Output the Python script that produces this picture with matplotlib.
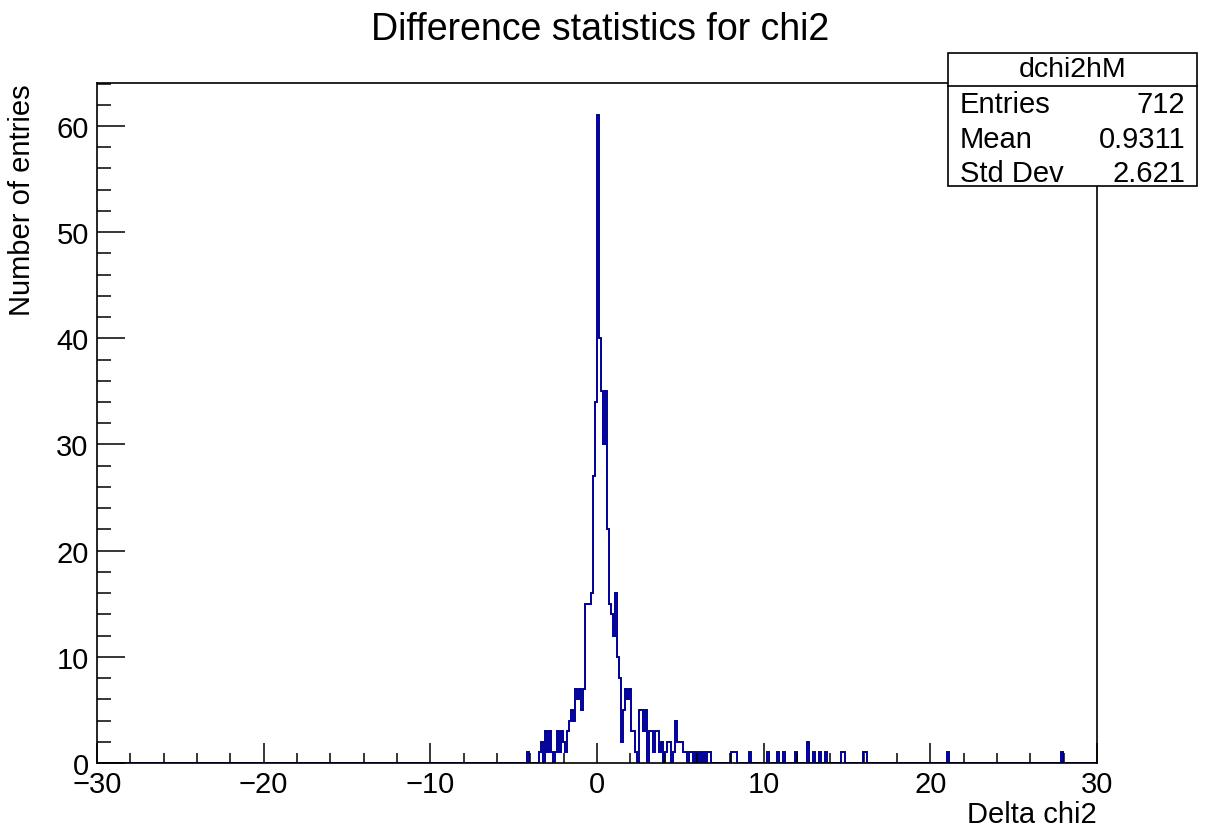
import numpy as np
import matplotlib
matplotlib.use("Agg")
import matplotlib.pyplot as plt
from matplotlib.ticker import MultipleLocator, FuncFormatter
from matplotlib.patches import Rectangle

plt.rcParams['font.family'] = ['Liberation Sans', 'DejaVu Sans']

# ---- data ----
nbins = 500
xmin, xmax = -30.0, 30.0
# central contiguous region: bins starting at x = -4.20 (bin width 0.12)
core_start = -4.20
core_counts = [1, 0, 0, 0, 0, 0, 1, 2, 0, 3, 1, 3, 1, 0, 1, 3, 1, 3, 2, 1,
               3, 4, 5, 4, 7, 6, 7, 5, 7, 15, 15, 15, 16, 27, 34,
               61, 40, 35, 30, 35, 22, 15, 14, 12, 16, 10, 8, 2, 5, 7, 6, 7,
               3, 3, 1, 0, 5, 5, 3, 5, 0, 3, 3, 1, 3, 3, 1, 2, 0, 1, 2, 2, 0,
               1, 4, 2, 2, 2, 1, 1, 0, 1, 1, 0, 1, 0, 1, 0, 1, 0, 1, 1]
# sparse tail entries (bin low edge x, count)
tail_x = [8.04, 8.16, 8.28, 9.12, 10.20, 10.80, 11.16, 11.88, 12.60, 12.96,
          13.32, 13.68, 14.64, 14.76, 15.96, 16.08, 21.00, 27.84]
tail_counts = [1, 1, 1, 1, 1, 1, 1, 1, 2, 1, 1, 1, 1, 1, 1, 1, 1, 1]

title = "Difference statistics for chi2"
xlabel = "Delta chi2"
ylabel = "Number of entries"
stats_name = "dchi2hM"
stats_labels = ["Entries", "Mean", "Std Dev"]
stats_values = ["712", "0.9311", "2.621"]

# ---- build histogram ----
edges = np.linspace(xmin, xmax, nbins + 1)
bw = (xmax - xmin) / nbins
counts = np.zeros(nbins)
i0 = int(round((core_start - xmin) / bw))
counts[i0:i0 + len(core_counts)] = core_counts
for xv, c in zip(tail_x, tail_counts):
    counts[int(round((xv - xmin) / bw))] += c

W, H = 1206, 828
fig = plt.figure(figsize=(W / 100, H / 100), dpi=100)
ax = fig.add_axes([97 / W, 1 - 764 / H, 1000 / W, 680 / H])

ax.stairs(counts, edges, color='#000099', linewidth=1.4)
ax.set_xlim(xmin, xmax)
ax.set_ylim(0, counts.max() * 1.05)

for s in ['top', 'right', 'left', 'bottom']:
    ax.spines[s].set_linewidth(1.2)
    ax.spines[s].set_color('black')

ax.xaxis.set_major_locator(MultipleLocator(10))
ax.xaxis.set_minor_locator(MultipleLocator(2))
ax.yaxis.set_major_locator(MultipleLocator(10))
ax.yaxis.set_minor_locator(MultipleLocator(2))
ax.xaxis.set_major_formatter(FuncFormatter(
    lambda v, p: ("\u2212" if v < 0 else "") + f"{abs(v):g}"))
ax.tick_params(axis='x', which='major', direction='in', length=14.4, width=1.1,
               labelsize=21, pad=5, top=False)
ax.tick_params(axis='x', which='minor', direction='in', length=7.2, width=1.1, top=False)
ax.tick_params(axis='y', which='major', direction='in', length=20, width=1.1,
               labelsize=21, pad=6, right=False)
ax.tick_params(axis='y', which='minor', direction='in', length=10, width=1.1, right=False)

fig.text(600 / W, 1 - 30 / H, title, ha='center', va='center', fontsize=27)
ax.set_xlabel(xlabel, fontsize=21)
ax.xaxis.set_label_coords(1.0, -0.054)
ax.xaxis.label.set_horizontalalignment('right')
ax.set_ylabel(ylabel, fontsize=21)
ax.yaxis.set_label_coords(-0.061, 1.0)
ax.yaxis.label.set_horizontalalignment('right')

# stats box
bx0, bx1, by0, by1, bdiv = 948, 1197, 54, 187, 87
fig.patches.append(Rectangle((bx0 / W, 1 - by1 / H), (bx1 - bx0) / W, (by1 - by0) / H,
                             transform=fig.transFigure, facecolor='white',
                             edgecolor='black', linewidth=1.2, zorder=5))
fig.lines.append(plt.Line2D([bx0 / W, bx1 / W], [1 - bdiv / H, 1 - bdiv / H],
                            transform=fig.transFigure, color='black', linewidth=1.2, zorder=6))
fig.text((bx0 + bx1) / 2 / W, 1 - 70 / H, stats_name, ha='center', va='center',
         fontsize=20.5, zorder=7)
for j, (lab, val) in enumerate(zip(stats_labels, stats_values)):
    yy = 1 - (105 + 34.5 * j) / H
    fig.text(960 / W, yy, lab, ha='left', va='center', fontsize=21, zorder=7)
    fig.text(1185 / W, yy, val, ha='right', va='center', fontsize=21, zorder=7)

fig.savefig("out.png", dpi=100, facecolor='white')
